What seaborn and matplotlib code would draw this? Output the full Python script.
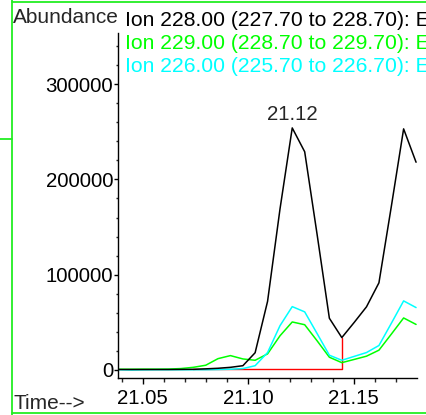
import matplotlib
matplotlib.use("Agg")
import matplotlib.pyplot as plt
from matplotlib.lines import Line2D
from matplotlib.ticker import MultipleLocator, FixedLocator
import numpy as np
import pandas as pd
import seaborn as sns

# Retention time (min) of each scan
time_min = [21.0388, 21.0447, 21.0505, 21.0564, 21.0623, 21.0681, 21.0740,
            21.0799, 21.0857, 21.0916, 21.0975, 21.1033, 21.1092, 21.1151,
            21.1209, 21.1268, 21.1327, 21.1385, 21.1444, 21.1503, 21.1561,
            21.1620, 21.1679, 21.1737, 21.1796]

# Extracted ion abundances
ion_228 = [500, 500, 500, 500, 500, 600, 700, 1200, 1800, 2800, 4500, 18100,
           72000, 169000, 254000, 229000, 142000, 54300, 34000, 50000, 66300,
           91500, 172000, 253000, 218000]
ion_229 = [800, 800, 900, 900, 1000, 1500, 2800, 5000, 11900, 15100, 11600,
           10200, 16900, 35900, 50400, 47500, 30600, 13400, 7700, 11100, 14500,
           20800, 37700, 54600, 47800]
ion_226 = [300, 0, 200, 300, 300, 300, 300, 300, 500, 800, 1500, 4500, 18300,
           46500, 66500, 61000, 38200, 15500, 10200, 14300, 18300, 25700, 49100,
           72500, 65500]

ion_labels = ["Ion 228.00 (227.70 to 228.70): E",
              "Ion 229.00 (228.70 to 229.70): E",
              "Ion 226.00 (225.70 to 226.70): E"]
ion_colors = ["#000000", "#00ff00", "#00ffff"]

# Integration of the 228 peak: start/end scan indices and baseline level
integ_start, integ_end = 6, 18
baseline_level = 700
apex_label = "21.12"
apex_index = 14

sns.set_style("white")
plt.rcParams["font.family"] = ["Liberation Sans", "DejaVu Sans"]

W, H = 426, 415
fig = plt.figure(figsize=(W / 100, H / 100), dpi=100)
ax = fig.add_axes([118 / W, 1 - 378 / H, (416.7 - 118) / W, (378 - 33) / H])

long = pd.DataFrame({
    "time": time_min * 3,
    "abundance": ion_228 + ion_229 + ion_226,
    "ion": [ion_labels[0]] * len(time_min) + [ion_labels[1]] * len(time_min)
           + [ion_labels[2]] * len(time_min),
})

# integration baseline with drop line
base_df = pd.DataFrame({
    "time": [time_min[integ_start], time_min[integ_end], time_min[integ_end]],
    "abundance": [baseline_level, baseline_level, ion_228[integ_end]],
})
sns.lineplot(data=base_df, x="time", y="abundance", sort=False, color="#ff0000",
             lw=1.0, ax=ax, estimator=None)

for lab, col in [(ion_labels[1], ion_colors[1]), (ion_labels[2], ion_colors[2]),
                 (ion_labels[0], ion_colors[0])]:
    sns.lineplot(data=long[long["ion"] == lab], x="time", y="abundance",
                 color=col, lw=1.1, ax=ax, estimator=None, sort=False)

ax.annotate(apex_label, (time_min[apex_index], ion_228[apex_index]),
            xytext=(0, 3), textcoords="offset points", ha="center",
            va="bottom", fontsize=14.7)

ax.set_xlim(21.0383, 21.1799)
ax.set_ylim(-8400, 353600)
ax.set_xlabel("")
ax.set_ylabel("")
for s in ["top", "right"]:
    ax.spines[s].set_visible(False)
for s in ["left", "bottom"]:
    ax.spines[s].set_color("black")
    ax.spines[s].set_linewidth(1.0)

ax.xaxis.set_major_locator(FixedLocator([21.05, 21.10, 21.15]))
ax.xaxis.set_minor_locator(MultipleLocator(0.01))
ax.set_xticklabels(["21.05", "21.10", "21.15"])
ax.yaxis.set_major_locator(FixedLocator([0, 100000, 200000, 300000]))
ax.yaxis.set_minor_locator(MultipleLocator(20000))
ax.set_yticklabels(["0", "100000", "200000", "300000"])
ax.tick_params(axis="x", which="major", direction="out", length=4.5, width=1,
               pad=3.5, labelsize=14.7, bottom=True, colors="black")
ax.tick_params(axis="x", which="minor", direction="out", length=3.2, width=1,
               bottom=True)
ax.tick_params(axis="y", which="major", direction="out", length=3, width=1,
               pad=0.5, labelsize=14.7, left=True, colors="black")
ax.tick_params(axis="y", which="minor", direction="out", length=1.5, width=1,
               left=True)
ax.grid(False)

# header texts
fig.text(13 / W, 1 - 22.7 / H, "Abundance", fontsize=15, va="baseline",
         ha="left")
for i, (lab, col) in enumerate(zip(ion_labels, ion_colors)):
    fig.text(125 / W, 1 - (25.5 + 23.5 * i) / H, lab, color=col, fontsize=15.2,
             va="baseline", ha="left")
fig.text(13 / W, 1 - 409 / H, "Time-->", fontsize=15, va="baseline", ha="left")

# panel frame
frame = "#22ee22"
for xs, ys in [([11.7, W], [2, 2]), ([11.7, 11.7], [0, H]),
               ([11.7, W], [413.3, 413.3]), ([0, 11.7], [139, 139])]:
    fig.add_artist(Line2D([x / W for x in xs], [1 - y / H for y in ys],
                          color=frame, lw=1.3, transform=fig.transFigure))

fig.savefig("out.png", dpi=100)
